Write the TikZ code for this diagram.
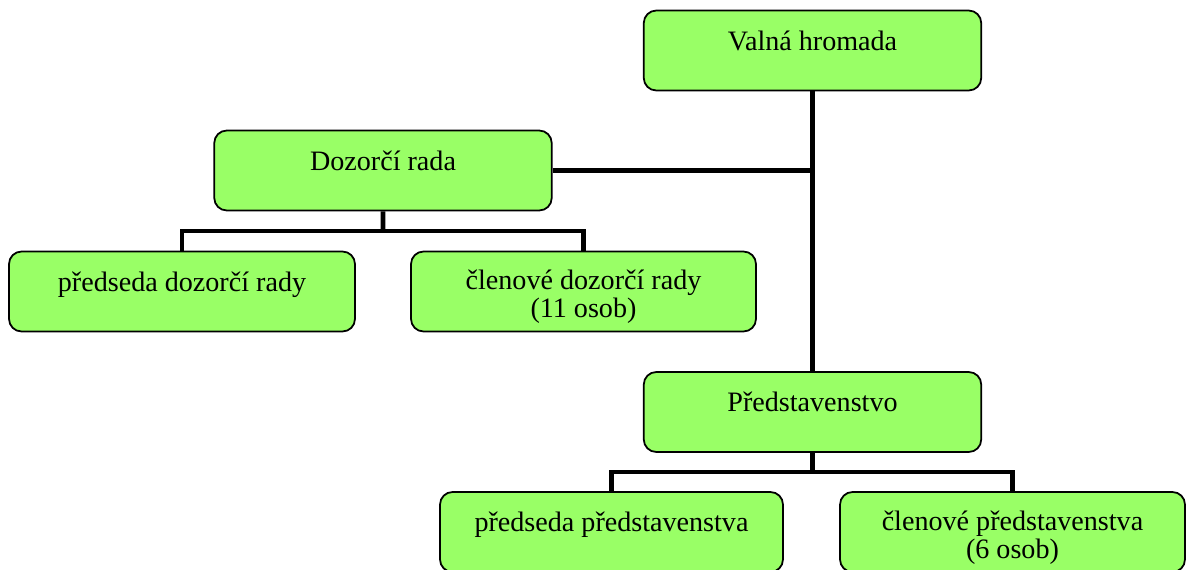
\documentclass[tikz,border=0pt]{standalone}
\usepackage{fontspec}
\setmainfont{Liberation Serif}
\usetikzlibrary{calc}
\definecolor{boxgreen}{RGB}{153,255,102}
\tikzset{
  unit/.style={draw, line width=1pt, fill=boxgreen, rounded corners=0.25cm,
    minimum width=6.75cm, minimum height=1.6cm, inner sep=0pt,
    text height=0.4cm, text depth=0.42cm,
    font=\fontsize{16}{16}\selectfont},
  twoline/.style={unit, align=center, text height=1.17cm, text depth=},
  link/.style={line width=2.8pt},
}

\begin{document}
\begin{tikzpicture}[x=0.02cm,y=-0.02cm]
\useasboundingbox (0,0) rectangle (1194,569);
\clip (0,0) rectangle (1194,569);

\node[unit] (valna) at (812.5,50.5) {Valná hromada};
\node[unit] (doz) at (383,170.5) {Dozorčí rada};
\node[unit,minimum width=6.92cm] (dpred) at (182,291.5) {předseda dozorčí rady};
\node[twoline,minimum width=6.9cm] (dclen) at (583.5,291.5) {členové dozorčí rady\\(11 osob)};
\node[unit] (pstv) at (812.5,412) {Představenstvo};
\node[unit,minimum width=6.86cm] (ppred) at (611.5,532) {předseda představenstva};
\node[twoline,minimum width=6.9cm] (pclen) at (1012.5,532) {členové představenstva\\(6 osob)};

% main line
\draw[link] (valna.south) -- (pstv.north);
\draw[link] (doz.east) -- (doz.east -| valna.south);

% dozorci rada
\coordinate (dsplit) at ($(doz.south)!.5!(doz.south |- dpred.north)$);
\draw[link] (doz.south) -- (dsplit);
\draw[link] (dpred.north) |- (dsplit) -| (dclen.north);

% predstavenstvo
\coordinate (psplit) at ($(pstv.south)!.5!(pstv.south |- ppred.north)$);
\draw[link] (pstv.south) -- (psplit);
\draw[link] (ppred.north) |- (psplit) -| (pclen.north);

\end{tikzpicture}
\end{document}
